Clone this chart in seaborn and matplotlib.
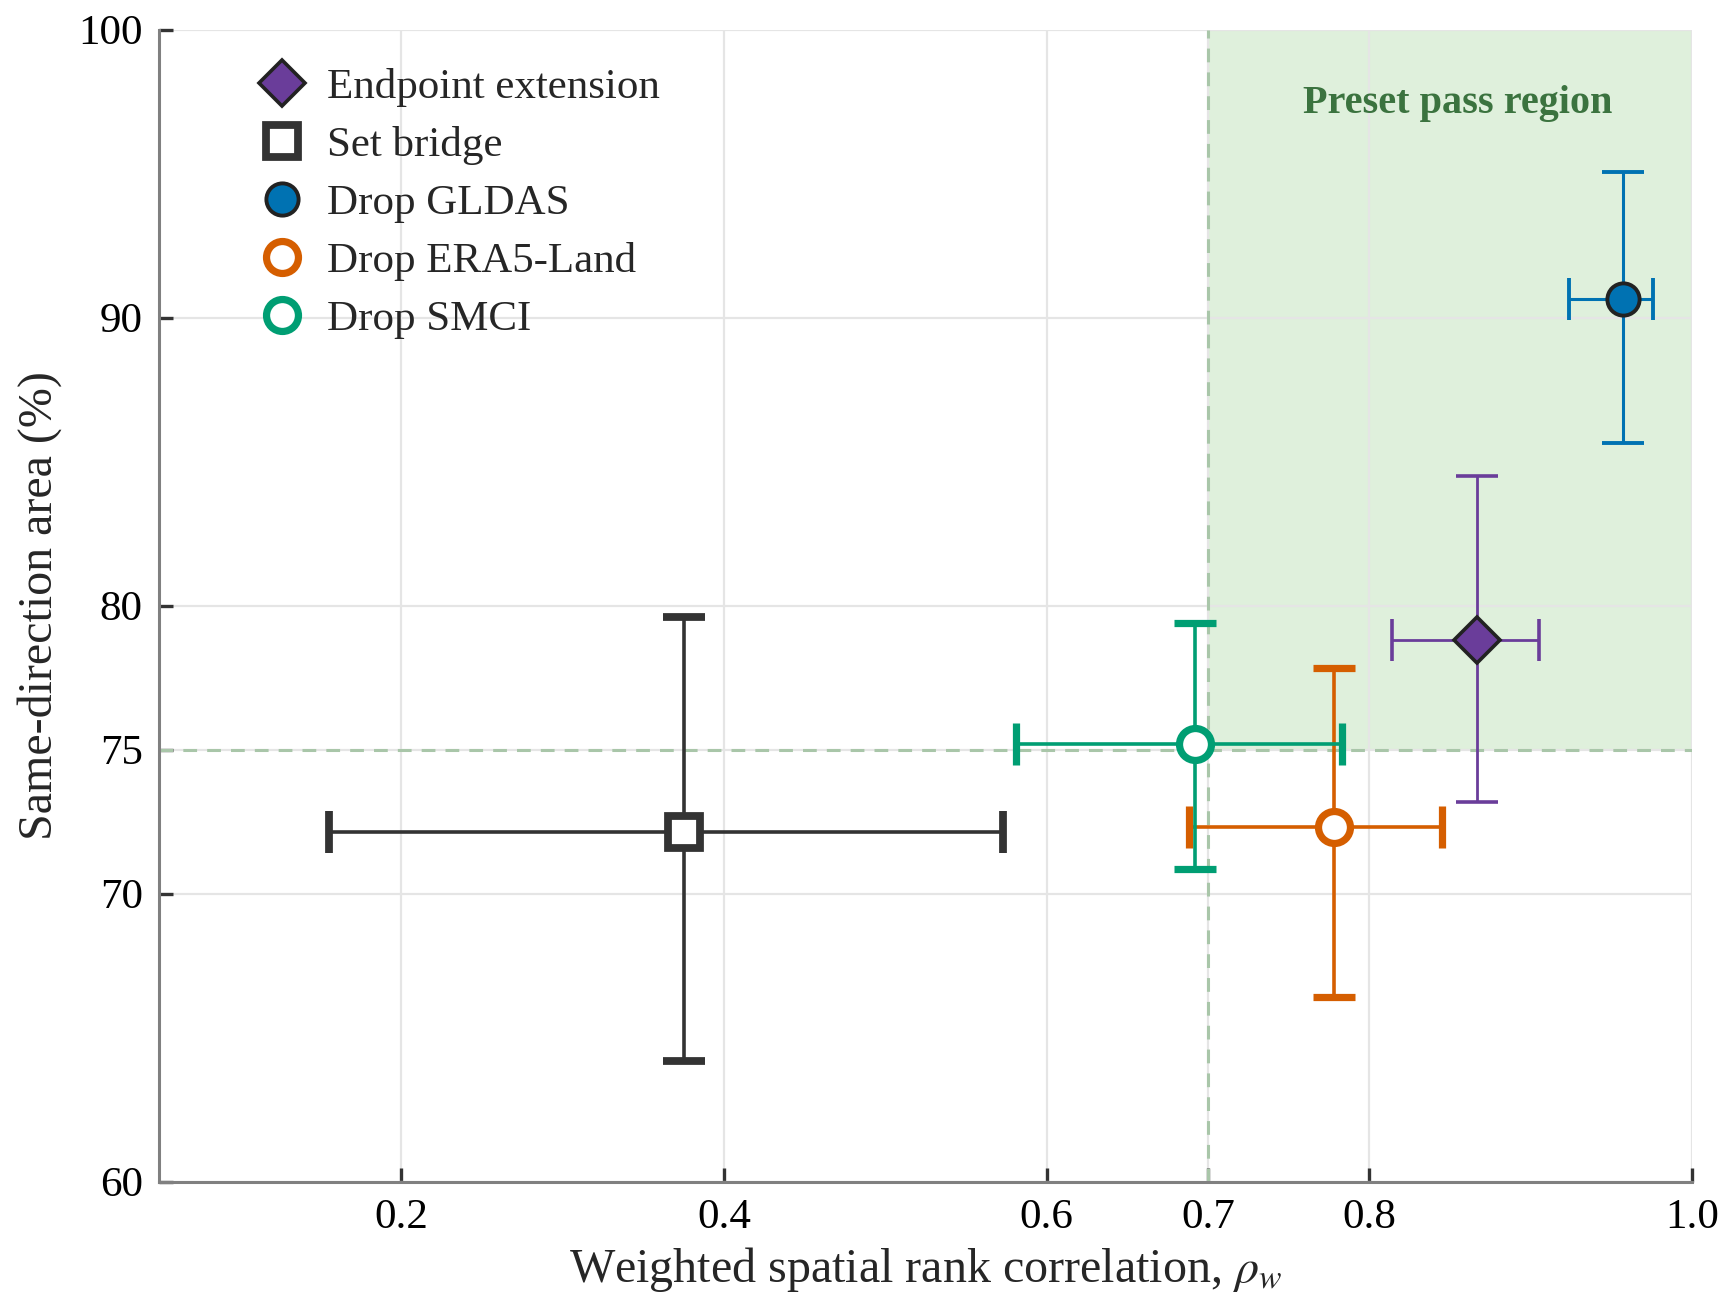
import matplotlib
matplotlib.use("Agg")
import matplotlib.pyplot as plt
from matplotlib.lines import Line2D
import seaborn as sns

# Datos
labels = ["Endpoint extension", "Set bridge", "Drop GLDAS", "Drop ERA5-Land", "Drop SMCI"]
rho = [0.867, 0.375, 0.957, 0.778, 0.692]
rho_lo = [0.814, 0.155, 0.924, 0.688, 0.581]
rho_hi = [0.905, 0.573, 0.976, 0.845, 0.783]
area = [78.8, 72.15, 90.65, 72.3, 75.2]
area_lo = [73.2, 64.2, 85.65, 66.4, 70.85]
area_hi = [84.5, 79.6, 95.05, 77.85, 79.4]

x_ticks = [0.2, 0.4, 0.6, 0.7, 0.8, 1.0]
y_ticks = [60, 70, 75, 80, 90, 100]
rho_pass = 0.7
area_pass = 75

# Estilos de cada serie
colors = ["#6a3d9a", "#333333", "#0072b2", "#d55e00", "#009e73"]
markers = ["D", "s", "o", "o", "o"]
faces = ["#6a3d9a", "white", "#0072b2", "white", "white"]
edges = ["#222222", "#333333", "#222222", "#d55e00", "#009e73"]
sizes = [11.8, 11.8, 11.6, 11.5, 11.5]
edge_w = [1.3, 2.8, 1.4, 2.6, 2.6]
line_w = [1.0, 1.3, 1.1, 1.3, 1.3]
cap_w = [1.0, 2.6, 1.1, 2.6, 2.6]

sns.set_theme(style="whitegrid")
plt.rcParams["font.family"] = ["Liberation Serif", "DejaVu Serif"]
plt.rcParams["mathtext.fontset"] = "stix"

fig = plt.figure(figsize=(8.665, 6.57), dpi=200)
ax = fig.add_axes([0.092, 0.1007, 0.8843, 0.8767])

# Region de aprobacion
ax.fill_between([rho_pass, 1.0], area_pass, 100, color="#dff0dc", linewidth=0, zorder=0)
ax.axvline(rho_pass, color="#a9c6a9", lw=1.1, ls=(0, (4.5, 3.3)), zorder=1)
ax.axhline(area_pass, color="#a9c6a9", lw=1.1, ls=(0, (4.5, 3.3)), zorder=1)
ax.text(0.855, 97.45, "Preset pass region", ha="center", va="center",
        fontsize=14.5, fontweight="bold", color="#3b733f")

handles = []
for i in range(len(labels)):
    xerr = [[rho[i] - rho_lo[i]], [rho_hi[i] - rho[i]]]
    yerr = [[area[i] - area_lo[i]], [area_hi[i] - area[i]]]
    ax.errorbar([rho[i]], [area[i]], xerr=xerr, yerr=yerr, fmt=markers[i],
                ms=sizes[i], mfc=faces[i], mec=edges[i], mew=edge_w[i],
                ecolor=colors[i], elinewidth=line_w[i], capsize=7.5,
                capthick=cap_w[i], zorder=3)
    handles.append(Line2D([], [], ls="none", marker=markers[i], ms=sizes[i],
                          mfc=faces[i], mec=edges[i], mew=edge_w[i], label=labels[i]))

ax.set_xlim(0.05, 1.0)
ax.set_ylim(60, 100)
ax.set_xticks(x_ticks)
ax.set_xticklabels(["0.2", "0.4", "0.6", "0.7", "0.8", "1.0"])
ax.set_yticks(y_ticks)

ax.grid(True, color="#e5e5e5", lw=0.8)
ax.set_axisbelow(True)
for s in ["top", "right"]:
    ax.spines[s].set_visible(False)
for s in ["left", "bottom"]:
    ax.spines[s].set_color("#808080")
    ax.spines[s].set_linewidth(1.1)
ax.tick_params(direction="in", length=5, width=1.2, color="#333333",
               labelsize=15.5, pad=6, colors="#333333", labelcolor="black")
ax.tick_params(bottom=True, left=True)

ax.set_xlabel(r"Weighted spatial rank correlation, $\rho_w$", fontsize=17.3, labelpad=3)
ax.set_ylabel("Same-direction area (%)", fontsize=17.3, labelpad=6)

ax.legend(handles=handles, loc="upper left", bbox_to_anchor=(0.063, 0.967),
          frameon=False, fontsize=15.5, handlelength=1.2, handletextpad=0.45,
          labelspacing=0.44, borderpad=0, borderaxespad=0)

fig.savefig("out.png", dpi=200)
